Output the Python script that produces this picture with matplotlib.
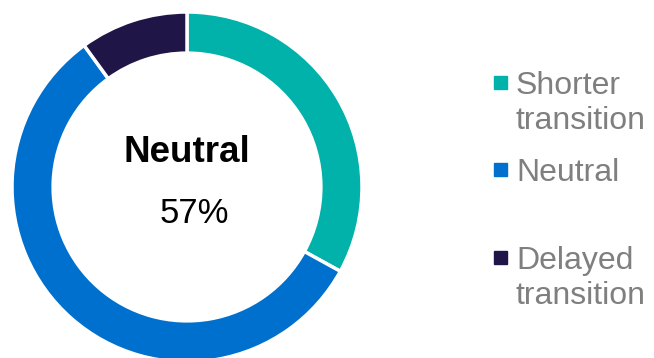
import matplotlib.pyplot as plt
from matplotlib.patches import Rectangle

plt.rcParams['font.family'] = ['Liberation Sans', 'DejaVu Sans']

labels = ['Shorter\ntransition', 'Neutral', 'Delayed\ntransition']
shares = [33, 57, 10]
colors = ['#00B2A9', '#0070CE', '#201547']
center_label = 'Neutral'
center_value = shares[1]

W, H = 654, 358
fig = plt.figure(figsize=(W / 100, H / 100), dpi=100)

# donut: centre at (187, 187) px, outer radius 175 px
cx, cy, r = 187, 187, 175
ax = fig.add_axes([(cx - r) / W, (H - cy - r) / H, 2 * r / W, 2 * r / H])
ax.pie(shares, colors=colors, startangle=90, counterclock=False, radius=1,
       wedgeprops=dict(width=0.235, edgecolor='white', linewidth=2.5))
ax.set_xlim(-1, 1)
ax.set_ylim(-1, 1)
ax.set_aspect('equal')
ax.axis('off')

ax.text(0, 0.2, center_label, ha='center', va='center', fontsize=26.5,
        fontweight='bold', color='black')
ax.text(0.04, -0.15, '%d%%' % center_value, ha='center', va='center',
        fontsize=25, color='black')

# legend entries, each two lines tall
legend_y = [83, 170, 258]
for label, color, y in zip(labels, colors, legend_y):
    fig.patches.append(Rectangle((494 / W, (H - y - 6) / H), 13 / W, 13 / H,
                                 transform=fig.transFigure, color=color))
    fig.text(516 / W, (H - y + 12) / H, label, ha='left', va='top',
             fontsize=23, color='#7F7F7F', linespacing=1.22)

fig.savefig('out.png', dpi=100)
